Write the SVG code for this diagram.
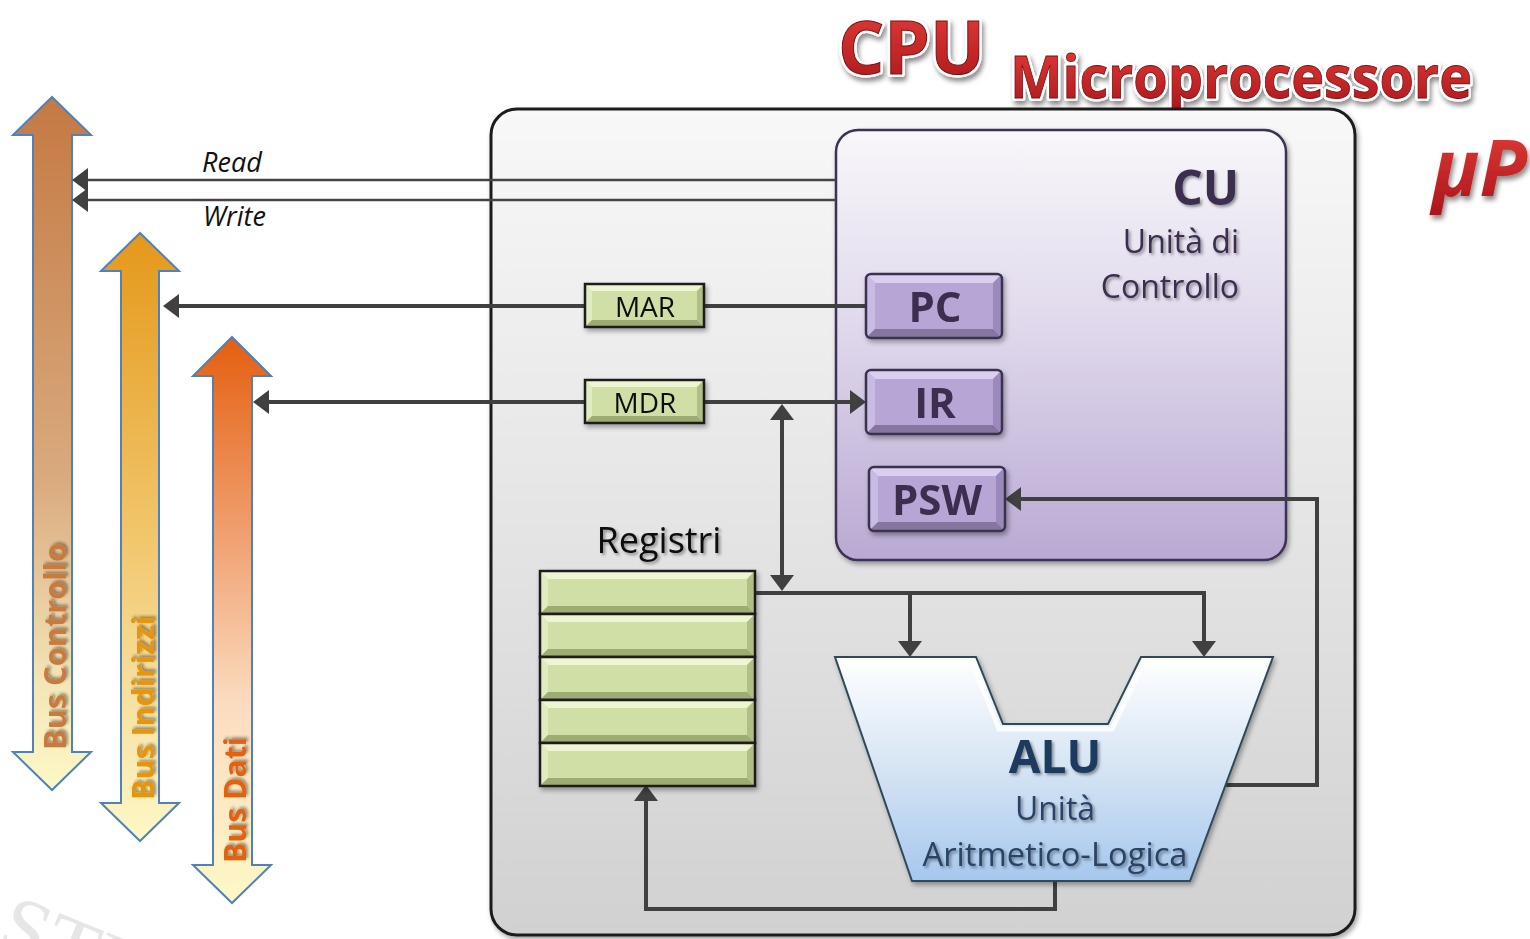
<svg xmlns="http://www.w3.org/2000/svg" xmlns:xlink="http://www.w3.org/1999/xlink" width="1530" height="939" viewBox="0 0 1530 939">
  <style>
    .sans { font-family: "Open Sans", "Noto Sans", "Liberation Sans", sans-serif; }
    .wire { fill: none; stroke: #404040; stroke-width: 4; stroke-linejoin: miter; }
    .thin { fill: none; stroke: #444; stroke-width: 2.5; }
    .key { font-family: "Open Sans", "Noto Sans", sans-serif; font-weight: 700; font-size: 42px; fill: #3b2e50; text-anchor: middle; }
    .reg { font-family: "Open Sans", "Noto Sans", sans-serif; font-size: 28px; fill: #111; text-anchor: middle; }
    .bus { font-family: "Open Sans", "Noto Sans", sans-serif; font-weight: 700; font-size: 30px; }
    .busShape { stroke: #4f81bd; stroke-width: 2; }
    .halo { fill: #ffffff; stroke: #ffffff; stroke-width: 6; stroke-linejoin: round; }
  </style>
  <defs>
    <linearGradient id="gOuter" x1="0" y1="0" x2="0" y2="1">
      <stop offset="0" stop-color="#f8f8f8"/>
      <stop offset="1" stop-color="#d1d1d1"/>
    </linearGradient>
    <linearGradient id="gCU" x1="0" y1="0" x2="0" y2="1">
      <stop offset="0" stop-color="#f8f7fa"/>
      <stop offset="0.45" stop-color="#e0d9ec"/>
      <stop offset="1" stop-color="#b9a9d3"/>
    </linearGradient>
    <linearGradient id="gALU" x1="0" y1="0" x2="0" y2="1">
      <stop offset="0" stop-color="#ffffff"/>
      <stop offset="0.5" stop-color="#d5e4f4"/>
      <stop offset="1" stop-color="#a6c7ee"/>
    </linearGradient>
    <linearGradient id="gBusC" x1="0" y1="0" x2="0" y2="1">
      <stop offset="0" stop-color="#c47943"/>
      <stop offset="0.55" stop-color="#d9aa7e"/>
      <stop offset="0.85" stop-color="#f3e6b8"/>
      <stop offset="1" stop-color="#fdf8c6"/>
    </linearGradient>
    <linearGradient id="gBusI" x1="0" y1="0" x2="0" y2="1">
      <stop offset="0" stop-color="#e4981a"/>
      <stop offset="0.5" stop-color="#f1c66c"/>
      <stop offset="0.85" stop-color="#f9e9b0"/>
      <stop offset="1" stop-color="#fdf8c6"/>
    </linearGradient>
    <linearGradient id="gBusD" x1="0" y1="0" x2="0" y2="1">
      <stop offset="0" stop-color="#e45f10"/>
      <stop offset="0.35" stop-color="#f0a070"/>
      <stop offset="0.65" stop-color="#fbdcc0"/>
      <stop offset="1" stop-color="#fdf8c6"/>
    </linearGradient>
    <linearGradient id="gRed" x1="0" y1="0" x2="0" y2="1">
      <stop offset="0" stop-color="#e8403a"/>
      <stop offset="1" stop-color="#a8141a"/>
    </linearGradient>

    <filter id="shadow" x="-10%" y="-10%" width="130%" height="130%">
      <feDropShadow dx="2" dy="3" stdDeviation="2.5" flood-color="#000" flood-opacity="0.35"/>
    </filter>
    <filter id="txtShadow" x="-10%" y="-20%" width="130%" height="150%">
      <feDropShadow dx="2" dy="2" stdDeviation="1.5" flood-color="#000" flood-opacity="0.4"/>
    </filter>
    <filter id="titleShadow" x="-10%" y="-20%" width="130%" height="160%">
      <feDropShadow dx="2" dy="4" stdDeviation="2.5" flood-color="#000" flood-opacity="0.45"/>
    </filter>

    <marker id="arrow" viewBox="0 0 16 24" refX="8" refY="12" markerWidth="16" markerHeight="24" markerUnits="userSpaceOnUse" orient="auto-start-reverse">
      <path d="M0,0 L16,12 L0,24 z" fill="#404040"/>
    </marker>

    <!-- bevelled purple key (PC / IR / PSW) -->
    <g id="keyPurple">
      <rect x="0" y="0" width="136" height="64" rx="5" fill="#b7a6d5"/>
      <polygon points="0,0 136,0 127,9 9,9" fill="#dacfee"/>
      <polygon points="0,0 9,9 9,55 0,64" fill="#c9bbe3"/>
      <polygon points="136,0 136,64 127,55 127,9" fill="#9b89bc"/>
      <polygon points="0,64 9,55 127,55 136,64" fill="#86749f"/>
      <rect x="0" y="0" width="136" height="64" rx="5" fill="none" stroke="#3a3050" stroke-width="2.5"/>
    </g>
    <!-- bevelled green cell (MAR / MDR) -->
    <g id="cellSmall">
      <rect x="0" y="0" width="119" height="43" fill="#cfdfa6"/>
      <polygon points="0,0 119,0 112,7 7,7" fill="#eef5d3"/>
      <polygon points="0,0 7,7 7,36 0,43" fill="#e0ebbf"/>
      <polygon points="119,0 119,43 112,36 112,7" fill="#b0bf86"/>
      <polygon points="0,43 7,36 112,36 119,43" fill="#9dac73"/>
      <rect x="0" y="0" width="119" height="43" fill="none" stroke="#1a1a1a" stroke-width="2.5"/>
    </g>
    <!-- bevelled green register row -->
    <g id="cellReg">
      <rect x="0" y="0" width="215" height="43" fill="#cfdfa6"/>
      <polygon points="0,0 215,0 207,8 8,8" fill="#eef5d3"/>
      <polygon points="0,0 8,8 8,35 0,43" fill="#e0ebbf"/>
      <polygon points="215,0 215,43 207,35 207,8" fill="#b0bf86"/>
      <polygon points="0,43 8,35 207,35 215,43" fill="#9dac73"/>
      <rect x="0" y="0" width="215" height="43" fill="none" stroke="#1a1a1a" stroke-width="2.5"/>
    </g>
  </defs>

  <rect width="1530" height="939" fill="#ffffff"/>

  <!-- faint background lettering -->
  <text x="-6" y="946" transform="rotate(22 -6 946)" font-family="Liberation Serif, serif" font-size="84" fill="#e6e6e6">STU</text>

  <!-- title: white halo under red lettering -->
  <g id="title">
    <g class="sans" font-weight="700" filter="url(#titleShadow)">
      <text class="halo" x="838" y="74" font-size="74" textLength="147" lengthAdjust="spacingAndGlyphs">CPU</text>
      <text class="halo" x="1010" y="98" font-size="59" textLength="462" lengthAdjust="spacingAndGlyphs">Microprocessore</text>
    </g>
    <text x="838" y="74" class="sans" font-weight="700" font-size="74" textLength="147" lengthAdjust="spacingAndGlyphs" fill="url(#gRed)" stroke="#7a0c0c" stroke-width="1">CPU</text>
    <text x="1010" y="98" class="sans" font-weight="700" font-size="59" textLength="462" lengthAdjust="spacingAndGlyphs" fill="url(#gRed)" stroke="#7a0c0c" stroke-width="0.8">Microprocessore</text>
    <text x="1432" y="196" class="sans" font-weight="700" font-style="italic" font-size="78" fill="url(#gRed)" filter="url(#titleShadow)">μP</text>
  </g>

  <!-- system buses -->
  <g id="bus-controllo">
    <path class="busShape" fill="url(#gBusC)" d="M52,97 L91,135 L72,135 L72,752 L91,752 L52,790 L13,752 L33,752 L33,135 L13,135 Z"/>
    <text class="bus" fill="#c97a3e" filter="url(#txtShadow)" x="66" y="750" transform="rotate(-90 66 750)" textLength="207" lengthAdjust="spacingAndGlyphs">Bus Controllo</text>
  </g>
  <g id="bus-indirizzi">
    <path class="busShape" fill="url(#gBusI)" d="M140,233 L179,271 L159,271 L159,803 L179,803 L140,841 L101,803 L121,803 L121,271 L101,271 Z"/>
    <text class="bus" fill="#e7950d" filter="url(#txtShadow)" x="154" y="800" transform="rotate(-90 154 800)" textLength="184" lengthAdjust="spacingAndGlyphs">Bus Indirizzi</text>
  </g>
  <g id="bus-dati">
    <path class="busShape" fill="url(#gBusD)" d="M232,337 L271,376 L252,376 L252,865 L271,865 L232,903 L193,865 L213,865 L213,376 L193,376 Z"/>
    <text class="bus" fill="#e4620f" filter="url(#txtShadow)" x="246" y="863" transform="rotate(-90 246 863)" textLength="126" lengthAdjust="spacingAndGlyphs">Bus Dati</text>
  </g>

  <!-- processor enclosure -->
  <g id="cpu">
    <rect x="491" y="109" width="864" height="826" rx="26" fill="url(#gOuter)" stroke="#1e1e1e" stroke-width="3" filter="url(#shadow)"/>
  </g>

  <!-- control unit -->
  <g id="cu">
    <rect x="836" y="130" width="450" height="430" rx="22" fill="url(#gCU)" stroke="#3d3352" stroke-width="2.5" filter="url(#shadow)"/>
    <g class="sans" fill="#3b2e50" text-anchor="end" filter="url(#txtShadow)">
      <text x="1239" y="205" font-weight="700" font-size="48">CU</text>
      <text x="1239" y="253" font-size="32">Unità di</text>
      <text x="1239" y="298" font-size="32">Controllo</text>
    </g>
  </g>

  <!-- control signal labels -->
  <g id="labels" class="sans" font-style="italic" font-size="27" fill="#111">
    <text x="202" y="172">Read</text>
    <text x="203" y="226">Write</text>
  </g>

  <!-- connectors -->
  <g id="connectors">
    <path class="thin" d="M836,180 H80" marker-end="url(#arrow)"/>
    <path class="thin" d="M836,200 H80" marker-end="url(#arrow)"/>
    <path class="wire" d="M866,306 H171" marker-end="url(#arrow)"/>
    <path class="wire" d="M261,402 H858" marker-start="url(#arrow)" marker-end="url(#arrow)"/>
    <path class="wire" d="M782,412 V583" marker-start="url(#arrow)" marker-end="url(#arrow)"/>
    <path class="wire" d="M755,593 H1204 V649" marker-end="url(#arrow)"/>
    <path class="wire" d="M910,593 V649" marker-end="url(#arrow)"/>
    <path class="wire" d="M1226,785 H1317 V499 H1013" marker-end="url(#arrow)"/>
    <path class="wire" d="M1055,881 V909 H646 V793" marker-end="url(#arrow)"/>
  </g>

  <!-- memory interface registers -->
  <g id="mar" filter="url(#shadow)">
    <use xlink:href="#cellSmall" x="585" y="284"/>
    <text class="reg" x="645" y="317">MAR</text>
  </g>
  <g id="mdr" filter="url(#shadow)">
    <use xlink:href="#cellSmall" x="585" y="380"/>
    <text class="reg" x="645" y="413">MDR</text>
  </g>

  <!-- control unit registers -->
  <g id="pc" filter="url(#shadow)">
    <use xlink:href="#keyPurple" x="866" y="274"/>
    <text class="key" x="935" y="322">PC</text>
  </g>
  <g id="ir" filter="url(#shadow)">
    <use xlink:href="#keyPurple" x="866" y="370"/>
    <text class="key" x="935" y="418">IR</text>
  </g>
  <g id="psw" filter="url(#shadow)">
    <use xlink:href="#keyPurple" x="869" y="467"/>
    <text class="key" x="937" y="515">PSW</text>
  </g>

  <!-- general purpose registers -->
  <g id="registri">
    <text class="sans" x="659" y="553" font-size="36" fill="#111" text-anchor="middle" filter="url(#txtShadow)">Registri</text>
    <g filter="url(#shadow)">
      <use xlink:href="#cellReg" x="540" y="571"/>
      <use xlink:href="#cellReg" x="540" y="614"/>
      <use xlink:href="#cellReg" x="540" y="657"/>
      <use xlink:href="#cellReg" x="540" y="700"/>
      <use xlink:href="#cellReg" x="540" y="743"/>
    </g>
  </g>

  <!-- arithmetic logic unit -->
  <g id="alu">
    <polygon points="835,657 976,657 1003,724 1108,724 1141,657 1273,657 1190,881 912,881" fill="url(#gALU)" stroke="#2e4a58" stroke-width="2" filter="url(#shadow)"/>
    <polyline points="845,662 972,662 999,729 1112,729 1144,662 1265,662" fill="none" stroke="#ffffff" stroke-width="5" stroke-opacity="0.8"/>
    <g class="sans" fill="#1f3a5f" text-anchor="middle" filter="url(#txtShadow)">
      <text x="1055" y="773" font-weight="700" font-size="46">ALU</text>
      <text x="1055" y="820" font-size="32" fill="#2b4366">Unità</text>
      <text x="1055" y="866" font-size="32" fill="#2b4366" textLength="265" lengthAdjust="spacingAndGlyphs">Aritmetico-Logica</text>
    </g>
  </g>
</svg>
